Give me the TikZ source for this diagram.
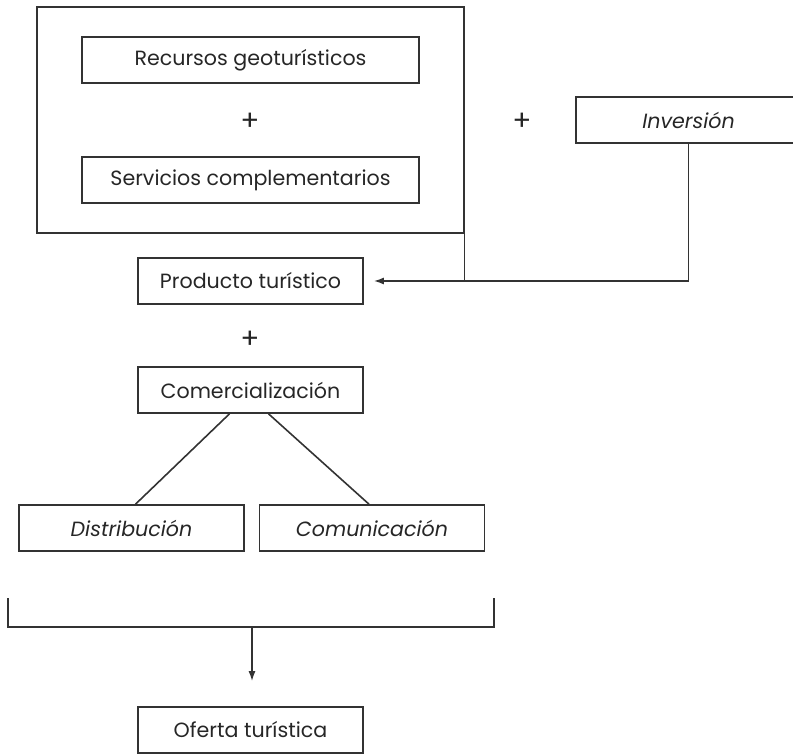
\documentclass[tikz,border=0pt]{standalone}
\usepackage{fontspec}
\setmainfont{Poppins}
\usetikzlibrary{positioning,fit,arrows.meta}

\begin{document}
\begin{tikzpicture}[x=0.5pt,y=-0.5pt,
		caja/.style={
			% The shape:
			rectangle,minimum width=112.5pt,minimum height=23pt,inner sep=0pt,
			% The rest
			line width=0.8pt,draw=black!80,text=black!85,
			font=\fontsize{10.3}{12}\selectfont},
		ancha/.style={caja,minimum width=168.5pt},
		suma/.style={font=\fontsize{14}{14}\selectfont,text=black!85},
		linea/.style={line width=0.8pt,draw=black!80},
		flecha/.style={linea,-{Latex[length=5pt,width=3.5pt]}}]
		\clip (0,0) rectangle (793,754);
		\node (c_recursos)	[ancha] at (250.5,60)	{Recursos geoturísticos};
		\node (c_mas1)		[suma] at (250,122)		{+};
		\node (c_servicios)	[ancha] at (250.5,180)	{Servicios complementarios};
		\node (c_grupo)		[linea, fit=(c_recursos) (c_servicios),
							inner xsep=22pt, inner ysep=14.5pt] {};
		\node (c_mas2)		[suma] at (522,122)		{+};
		\node (c_inversion)	[caja] at (688.5,120)	{\itshape Inversión};
		\node (c_producto)	[caja] at (250.5,281)	{Producto turístico};
		\node (c_mas3)		[suma] at (250,340)		{+};
		\node (c_comercial)	[caja] at (250.5,390)	{Comercialización};
		\node (c_distrib)	[caja] at (131.5,528)	{\itshape Distribución};
		\node (c_comunic)	[caja] at (372,528)		{\itshape Comunicación};
		\node (c_oferta)	[caja] at (250.5,730)	{Oferta turística};
		
		% llave inferior
		\coordinate (b_izq)	at (8,598);
		\coordinate (b_der)	at (494,598);
		\coordinate (b_med)	at (252,627);
		
		\path[linea]	(c_grupo.south east) -- (c_grupo.south east |- c_producto);
		\path[flecha, shorten >=5pt]	(c_inversion.south) |- (c_producto.east);
		\path[linea]	([xshift=-10.5pt]c_comercial.south) -- ([xshift=2pt]c_distrib.north)
						([xshift=9pt]c_comercial.south) -- ([xshift=-1.5pt]c_comunic.north);
		\path[linea]	(b_izq) |- (b_med) -| (b_der);
		\path[flecha, shorten >=12.5pt]	(b_med) -- (b_med |- c_oferta.north);
	\end{tikzpicture}
\end{document}
